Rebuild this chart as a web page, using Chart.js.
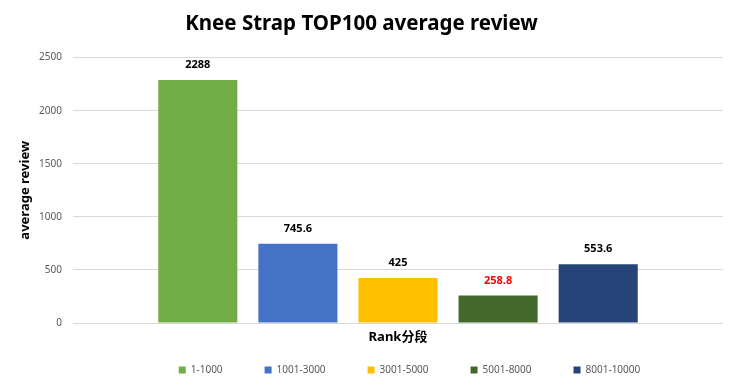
<!DOCTYPE html>
<html>
<head>
<meta charset="utf-8">
<script src="https://cdn.jsdelivr.net/npm/chart.js@4.4.0/dist/chart.umd.min.js"></script>
<style>
  html, body { margin: 0; padding: 0; background: #fff; }
  #wrap { width: 732px; height: 387px; }
</style>
</head>
<body>
<div id="wrap"><canvas id="reviewChart" width="732" height="387"></canvas></div>
<script>
// chart data
const rankGroups = ['1-1000', '1001-3000', '3001-5000', '5001-8000', '8001-10000'];
const avgReviews = [2288, 745.6, 425, 258.8, 553.6];
const barColors = ['#70AD47', '#4472C4', '#FFC000', '#43682B', '#264478'];
const labelColors = ['#000000', '#000000', '#000000', '#FF0000', '#000000'];
const yTicks = [0, 500, 1000, 1500, 2000, 2500];

const FONT = "'Noto Sans', 'Noto Sans CJK SC', sans-serif";

// draws the value above each bar
const valueLabels = {
    id: 'valueLabels',
    afterDatasetsDraw(chart) {
        const ctx = chart.ctx;
        ctx.save();
        ctx.font = `bold 11px ${FONT}`;
        ctx.textAlign = 'center';
        ctx.textBaseline = 'middle';
        chart.data.datasets.forEach((ds, i) => {
            const bar = chart.getDatasetMeta(i).data[0];
            if (!bar) return;
            ctx.fillStyle = labelColors[i];
            ctx.fillText(String(ds.data[0]), bar.x, bar.y - 15);
        });
        ctx.restore();
    }
};

// nudge the legend to the right, like the original
const legendShift = {
    id: 'legendShift',
    afterLayout(chart) {
        if (!chart.legend) return;
        chart.legend.left += 48;
        chart.legend.right += 48;
    }
};

const datasets = rankGroups.map((name, i) => ({
    label: name,
    data: [avgReviews[i]],
    backgroundColor: barColors[i],
    categoryPercentage: 0.77,
    barPercentage: 0.79
}));

new Chart(document.getElementById('reviewChart'), {
    type: 'bar',
    data: { labels: [''], datasets: datasets },
    plugins: [valueLabels, legendShift],
    options: {
        responsive: false,
        animation: false,
        layout: { padding: { left: 0, right: 9, top: 12, bottom: 2 } },
        plugins: {
            title: {
                display: true,
                text: 'Knee Strap TOP100 average review',
                color: '#000',
                font: { family: FONT, size: 20.5, weight: 'bold' },
                padding: { top: 0, bottom: 21 }
            },
            legend: {
                position: 'bottom',
                maxHeight: 65,
                labels: {
                    boxWidth: 7,
                    boxHeight: 7,
                    padding: 42,
                    color: '#595959',
                    font: { family: FONT, size: 10 }
                }
            },
            tooltip: { enabled: false }
        },
        scales: {
            x: {
                afterFit: axis => { axis.height = 0; },
                grid: { display: false },
                border: { display: false },
                ticks: { display: false },
                title: {
                    display: true,
                    text: 'Rank分段',
                    color: '#000',
                    font: { family: FONT, size: 13, weight: 'bold' },
                    padding: { top: 0, bottom: -22 }
                }
            },
            y: {
                min: yTicks[0],
                max: yTicks[yTicks.length - 1],
                afterBuildTicks: axis => { axis.ticks = yTicks.map(v => ({ value: v })); },
                afterFit: axis => { axis.width = 73; },
                grid: { color: '#D9D9D9', drawTicks: false },
                border: { display: false },
                ticks: {
                    color: '#595959',
                    padding: 11,
                    font: { family: FONT, size: 10 },
                    callback: v => String(v)
                },
                title: {
                    display: true,
                    text: 'average review',
                    color: '#000',
                    font: { family: FONT, size: 13, weight: 'bold' },
                    padding: { top: 17, bottom: 0 }
                }
            }
        }
    }
});
</script>
</body>
</html>
